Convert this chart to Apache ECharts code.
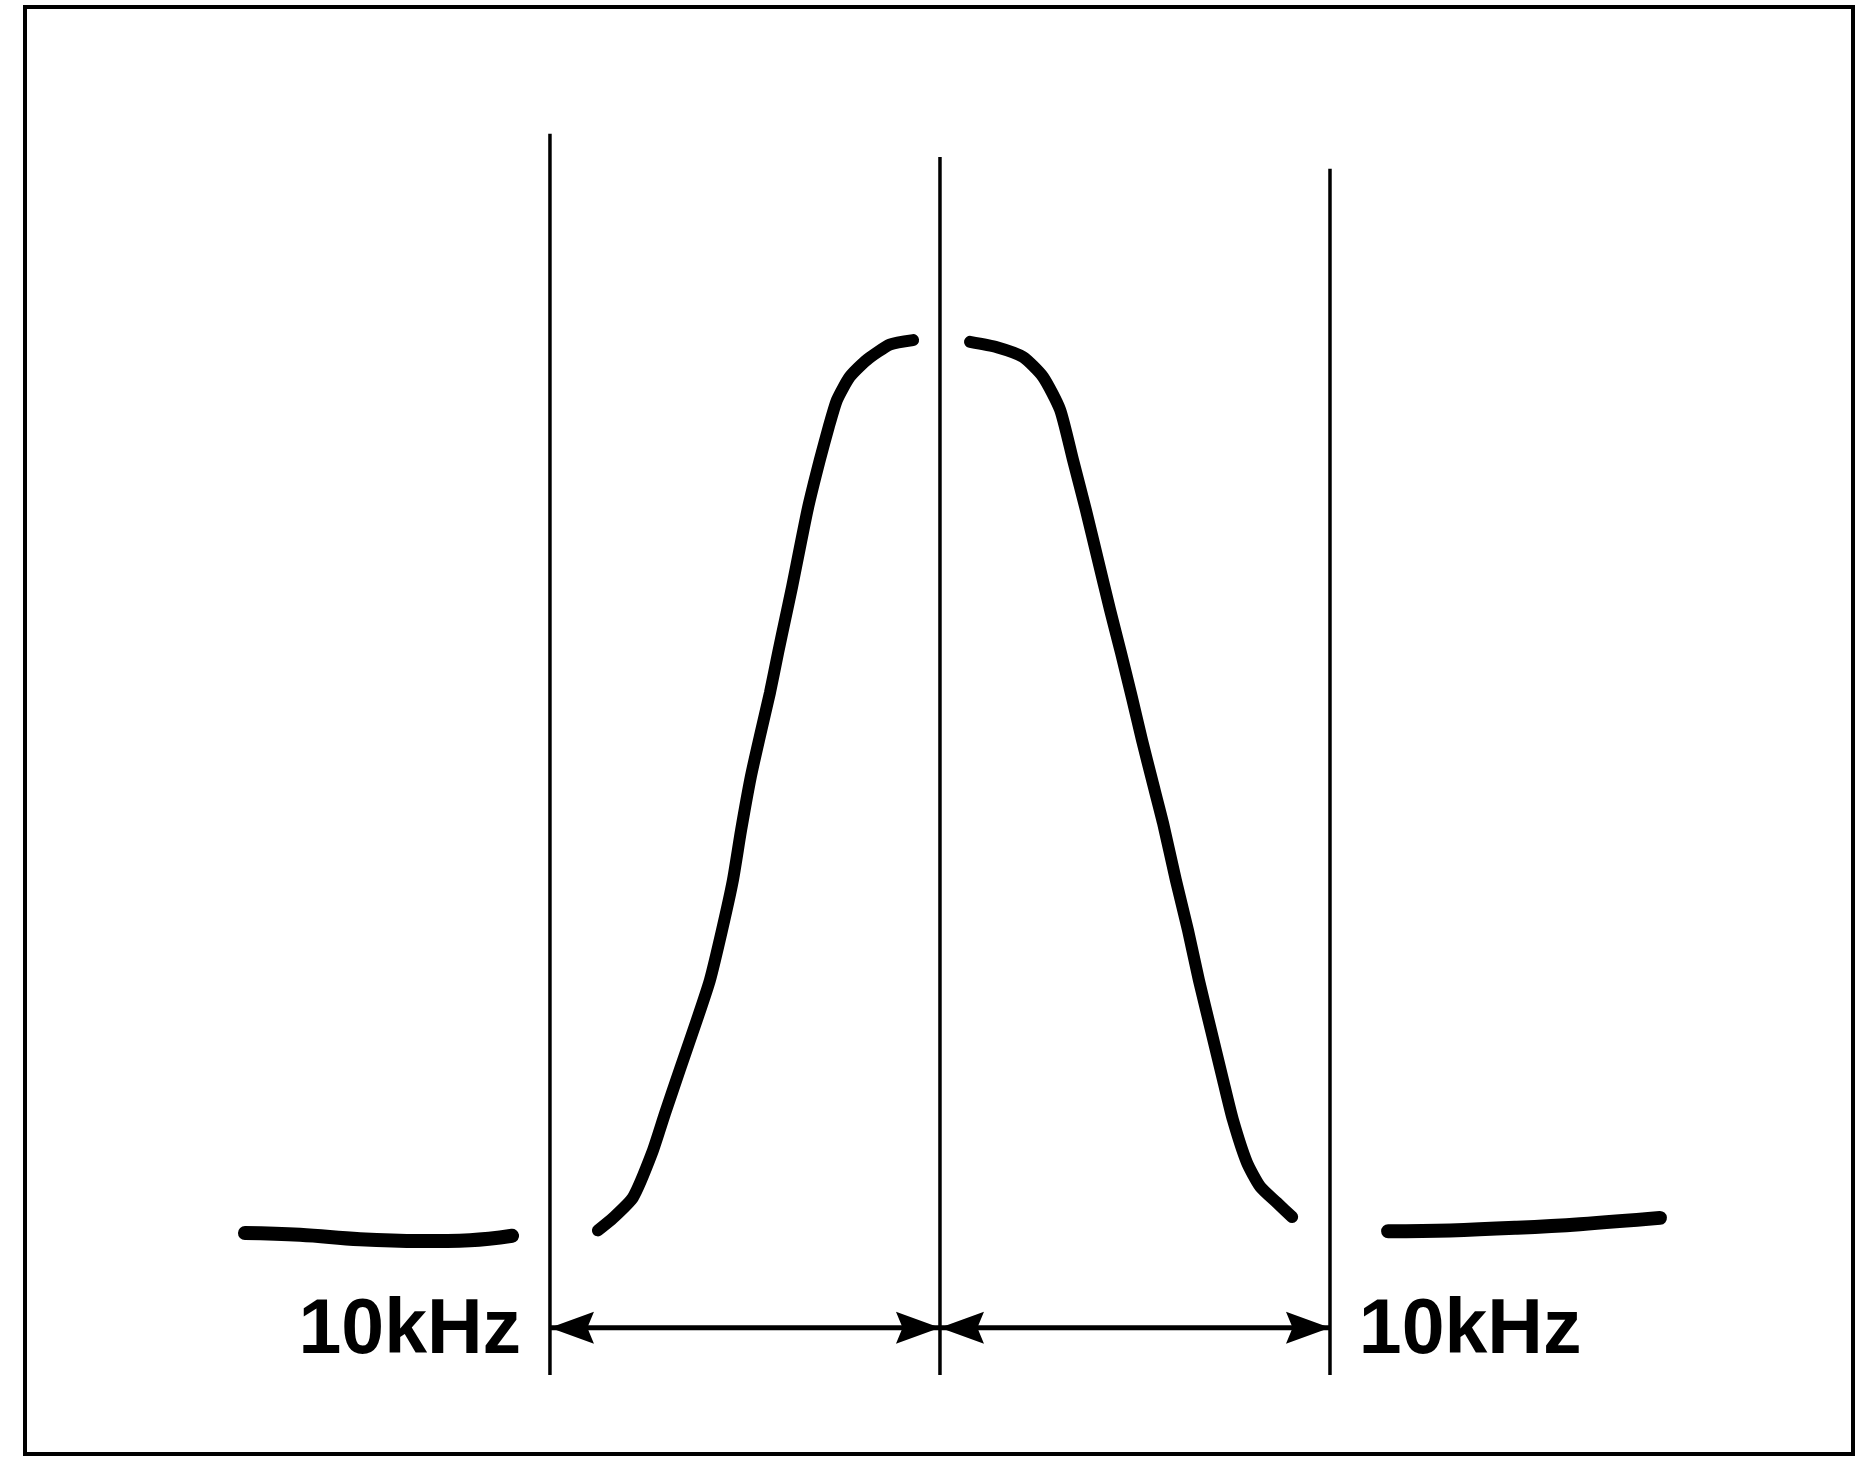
<!DOCTYPE html>
<html>
<head>
<meta charset="utf-8">
<script src="https://cdn.jsdelivr.net/npm/echarts@6/dist/echarts.min.js"></script>
<style>
html,body{margin:0;padding:0;background:#fff;}
#chart{width:1869px;height:1458px;}
</style>
</head>
<body>
<div id="chart"></div>
<script>
// Frequency offset (kHz) vs relative amplitude (peak = 1, floor = 0)
const leftSkirt = [
  [-8.77,0.004],[-8.38,0.018],[-7.87,0.041],[-7.38,0.091],[-7.05,0.135],[-6.67,0.184],
  [-6.23,0.240],[-5.90,0.284],[-5.59,0.340],[-5.31,0.396],[-5.10,0.452],[-4.85,0.512],
  [-4.62,0.557],[-4.36,0.606],[-4.15,0.651],[-3.97,0.688],[-3.79,0.725],[-3.59,0.769],
  [-3.38,0.814],[-3.08,0.867],[-2.85,0.904],[-2.64,0.934],[-2.31,0.960],[-1.87,0.979],
  [-1.28,0.996],[-0.69,1.001]
];
const rightSkirt = [
  [0.77,0.999],[1.46,0.993],[2.13,0.982],[2.64,0.960],[3.08,0.923],[3.41,0.867],
  [3.74,0.811],[4.05,0.755],[4.36,0.699],[4.64,0.651],[4.92,0.601],[5.18,0.553],
  [5.44,0.508],[5.72,0.460],[6.05,0.396],[6.36,0.340],[6.64,0.284],[6.95,0.228],
  [7.26,0.172],[7.51,0.128],[7.87,0.080],[8.21,0.053],[8.64,0.035],[9.03,0.019]
];
const leftFloor = [[-17.82,0.001],[-16.41,-0.001],[-14.87,-0.006],[-13.33,-0.008],[-12.05,-0.007],[-10.97,-0.002]];
const rightFloor = [[11.49,0.003],[13.08,0.004],[14.79,0.007],[16.41,0.011],[18.46,0.018]];

// Marker lines: frequency (kHz), top and bottom of each line
const markerFreqs = [-10, 0, 10];
const markerTops = [1.232, 1.206, 1.193];
const markerBottom = -0.158;

// Bandwidth dimension arrows
const dimLevel = -0.105;
const dimSpans = [[-10, 0], [0, 10]];
const arrowTips = [[-10, -1], [0, 1], [0, -1], [10, 1]]; // [kHz, direction: -1 left, +1 right]
const dimLabels = [[-10.74, '10kHz', 'left'], [10.74, '10kHz', 'right']];

const ink = '#000';
const series = [];

markerFreqs.forEach((f, i) => {
  series.push({
    type: 'line', data: [[f, markerBottom], [f, markerTops[i]]],
    symbol: 'none', silent: true, animation: false,
    lineStyle: { color: ink, width: 3.5 }
  });
});

[leftSkirt, rightSkirt].forEach(d => {
  series.push({
    type: 'line', data: d, smooth: 0.2, symbol: 'none', silent: true, animation: false,
    lineStyle: { color: ink, width: 12, cap: 'round', join: 'round' }
  });
});

[leftFloor, rightFloor].forEach(d => {
  series.push({
    type: 'line', data: d, smooth: 0.4, symbol: 'none', silent: true, animation: false,
    lineStyle: { color: ink, width: 14, cap: 'round', join: 'round' }
  });
});

dimSpans.forEach(s => {
  series.push({
    type: 'line', data: [[s[0], dimLevel], [s[1], dimLevel]],
    symbol: 'none', silent: true, animation: false,
    lineStyle: { color: ink, width: 5 }
  });
});

series.push({
  type: 'custom', silent: true, animation: false,
  data: arrowTips.map(a => [a[0], dimLevel, a[1]]),
  encode: { x: 0, y: 1 },
  renderItem: function (params, api) {
    const p = api.coord([api.value(0), api.value(1)]);
    const d = api.value(2);
    const L = 44, W = 16;
    return {
      type: 'polygon',
      shape: { points: [
        [p[0], p[1]],
        [p[0] - d * L, p[1] - W],
        [p[0] - d * L * 0.85, p[1]],
        [p[0] - d * L, p[1] + W]
      ] },
      style: { fill: ink }
    };
  }
});

dimLabels.forEach(l => {
  series.push({
    type: 'scatter', data: [[l[0], dimLevel - 0.005]], symbolSize: 0, silent: true, animation: false,
    itemStyle: { opacity: 1 },
    label: {
      show: true, position: l[2], distance: 0, formatter: l[1], opacity: 1,
      fontFamily: 'Liberation Sans', fontWeight: 'bold', fontSize: 77, color: ink
    }
  });
});

const chart = echarts.init(document.getElementById('chart'), null, { renderer: 'canvas' });
chart.setOption({
  backgroundColor: '#fff',
  animation: false,
  grid: { left: 25, right: 16, top: 7, bottom: 4, show: true, borderColor: ink, borderWidth: 4, backgroundColor: '#fff' },
  xAxis: { type: 'value', min: -23.46, max: 23.41, show: false, splitLine: { show: false } },
  yAxis: { type: 'value', min: -0.2464, max: 1.374, show: false, splitLine: { show: false } },
  series: series
});
</script>
</body>
</html>
